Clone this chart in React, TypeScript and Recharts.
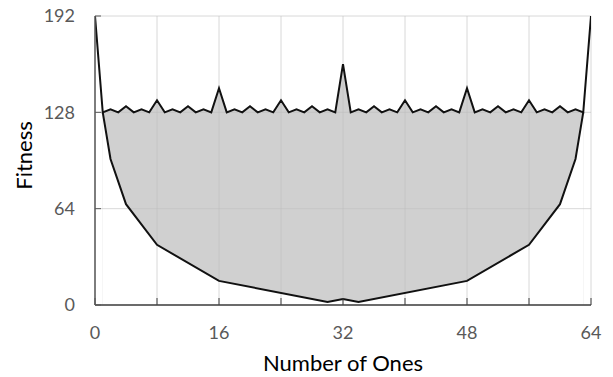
import React from 'react'
import { Area, CartesianGrid, ComposedChart, Line, XAxis, YAxis } from 'recharts'

// upper curve, one value per number of ones (0..64)
const upperFitness = [
  192, 128, 130, 128, 132, 128, 130, 128, 136, 128, 130, 128, 132, 128, 130, 128,
  144, 128, 130, 128, 132, 128, 130, 128, 136, 128, 130, 128, 132, 128, 130, 128,
  160, 128, 130, 128, 132, 128, 130, 128, 136, 128, 130, 128, 132, 128, 130, 128,
  144, 128, 130, 128, 132, 128, 130, 128, 136, 128, 130, 128, 132, 128, 130, 128,
  192,
]

// lower curve vertices
const lowerOnes = [1, 2, 4, 8, 16, 30, 32, 34, 48, 56, 60, 62, 63]
const lowerFitness = [128, 97, 67, 40, 16, 2, 4, 2, 16, 40, 67, 97, 128]

const xTicks = [0, 8, 16, 24, 32, 40, 48, 56, 64]
const yTicks = [0, 64, 128, 192]

const upperRows = upperFitness.map((v, i) => ({ x: i, v }))
const lowerRows = lowerOnes.map((x, i) => ({ x, v: lowerFitness[i] }))
const bandRows = upperRows.slice(1, 64)

const tickStyle = { fontFamily: 'Lato', fontSize: 18, fill: '#595959' }
const axisStroke = '#595959'

export default function App() {
  return (
    <div style={{ position: 'absolute', left: 0, top: 0, width: 613, height: 377, background: '#fff' }}>
      <ComposedChart width={613} height={377} margin={{ top: 16, right: 22, bottom: 42, left: 0 }}>
        <XAxis
          dataKey="x"
          type="number"
          domain={[0, 64]}
          ticks={xTicks}
          allowDataOverflow
          height={30}
          tickSize={-7}
          tickMargin={28}
          tick={tickStyle}
          tickFormatter={(v) => (v % 16 === 0 ? String(v) : '')}
          stroke={axisStroke}
          axisLine={{ stroke: '#404040', strokeWidth: 1.5 }}
          tickLine={{ stroke: '#404040' }}
          label={{
            content: ({ viewBox }: any) => (
              <text
                x={viewBox.x + viewBox.width / 2}
                y={viewBox.y + 66}
                textAnchor="middle"
                fontFamily="Lato"
                fontSize={22}
                fill="#000"
              >
                Number of Ones
              </text>
            ),
          }}
        />
        <YAxis
          dataKey="v"
          type="number"
          domain={[0, 192]}
          ticks={yTicks}
          allowDataOverflow
          width={95}
          tickSize={-6}
          tickMargin={26}
          tick={tickStyle}
          stroke={axisStroke}
          axisLine={{ stroke: axisStroke, strokeWidth: 1.5 }}
          tickLine={{ stroke: axisStroke }}
          label={{
            content: ({ viewBox }: any) => {
              const x = viewBox.x + 32
              const y = viewBox.y + viewBox.height / 2 - 5
              return (
                <text
                  x={x}
                  y={y}
                  transform={`rotate(-90, ${x}, ${y})`}
                  textAnchor="middle"
                  fontFamily="Lato"
                  fontSize={22}
                  fill="#000"
                >
                  Fitness
                </text>
              )
            },
          }}
        />
        {/* band: fill under the upper curve, then blank out under the lower one */}
        <Area
          data={bandRows}
          dataKey="v"
          type="linear"
          fill="#d0d0d0"
          fillOpacity={1}
          stroke="none"
          isAnimationActive={false}
        />
        <Area
          data={lowerRows}
          dataKey="v"
          type="linear"
          fill="#ffffff"
          fillOpacity={1}
          stroke="none"
          isAnimationActive={false}
        />
        <CartesianGrid stroke="rgb(191,191,191)" strokeOpacity={0.6} zIndex={150} />
        <Line
          data={upperRows}
          dataKey="v"
          type="linear"
          stroke="#111"
          strokeWidth={2}
          dot={false}
          isAnimationActive={false}
        />
        <Line
          data={lowerRows}
          dataKey="v"
          type="linear"
          stroke="#111"
          strokeWidth={2}
          dot={false}
          isAnimationActive={false}
        />
      </ComposedChart>
    </div>
  )
}
